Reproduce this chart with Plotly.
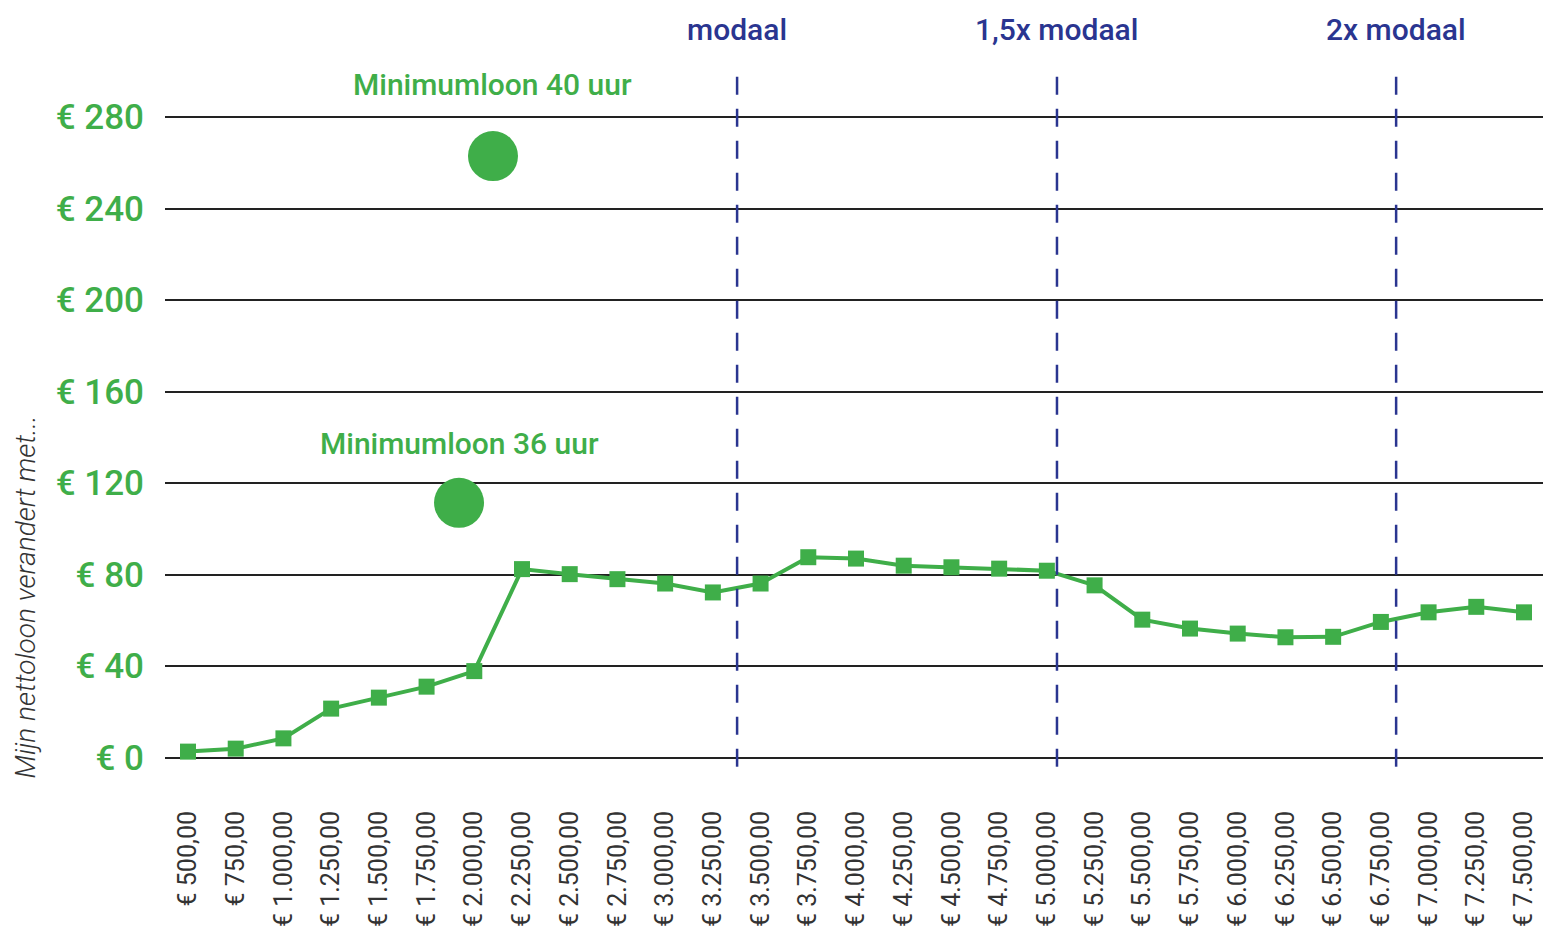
import plotly.graph_objects as go

income = [500, 750, 1000, 1250, 1500, 1750, 2000, 2250, 2500, 2750, 3000, 3250, 3500,
          3750, 4000, 4250, 4500, 4750, 5000, 5250, 5500, 5750, 6000, 6250, 6500, 6750,
          7000, 7250, 7500]
tick_labels = ["€ 500,00", "€ 750,00", "€ 1.000,00", "€ 1.250,00", "€ 1.500,00", "€ 1.750,00",
               "€ 2.000,00", "€ 2.250,00", "€ 2.500,00", "€ 2.750,00", "€ 3.000,00", "€ 3.250,00",
               "€ 3.500,00", "€ 3.750,00", "€ 4.000,00", "€ 4.250,00", "€ 4.500,00", "€ 4.750,00",
               "€ 5.000,00", "€ 5.250,00", "€ 5.500,00", "€ 5.750,00", "€ 6.000,00", "€ 6.250,00",
               "€ 6.500,00", "€ 6.750,00", "€ 7.000,00", "€ 7.250,00", "€ 7.500,00"]
change = [2.6, 3.9, 8.4, 21.4, 26.2, 31.0, 37.8, 82.4, 80.2, 78.0, 76.1, 72.2, 76.1,
          87.6, 87.0, 83.9, 83.2, 82.6, 81.7, 75.3, 60.3, 56.4, 54.2, 52.6, 52.8, 59.3,
          63.5, 65.9, 63.5]

min_wage_labels = ["Minimumloon 36 uur", "Minimumloon 40 uur"]
min_wage_income = [1920, 2098]
min_wage_change = [111.4, 263.0]
min_wage_label_shift = [59, 72]

ref_labels = ["modaal", "1,5x modaal", "2x modaal"]
ref_income = [3377, 5053, 6830]

y_ticks = [0, 40, 80, 120, 160, 200, 240, 280]
y_tick_text = ["€ %d" % v for v in y_ticks]

GREEN = "#3fae49"
NAVY = "#2a3590"
FONT = "Roboto"

fig = go.Figure()
fig.add_trace(go.Scatter(
    x=income, y=change, mode="lines+markers",
    line=dict(color=GREEN, width=4),
    marker=dict(symbol="square", size=16, color=GREEN),
    showlegend=False, cliponaxis=False,
))
fig.add_trace(go.Scatter(
    x=min_wage_income, y=min_wage_change, mode="markers",
    marker=dict(symbol="circle", size=50, color=GREEN),
    showlegend=False, cliponaxis=False,
))

for lbl, xv, yv, ys in zip(min_wage_labels, min_wage_income, min_wage_change, min_wage_label_shift):
    fig.add_annotation(x=xv, y=yv, xref="x", yref="y", text=lbl, showarrow=False,
                       yshift=ys, font=dict(family=FONT, size=30, color=GREEN, weight=500),
                       xanchor="center", yanchor="middle")

for lbl, xv in zip(ref_labels, ref_income):
    fig.add_shape(type="line", x0=xv, x1=xv, y0=-4, y1=302, xref="x", yref="y",
                  line=dict(color=NAVY, width=2.5, dash="18px,14px"))
    fig.add_annotation(x=xv, y=1, xref="x", yref="paper", text=lbl, showarrow=False,
                       yshift=31, font=dict(family=FONT, size=30, color=NAVY, weight=500),
                       xanchor="center", yanchor="middle")

fig.add_annotation(x=0, y=70, xref="paper", yref="y", xshift=-140,
                   text="Mijn nettoloon verandert met...", showarrow=False, textangle=-90,
                   font=dict(family=FONT, size=28, color="#333333", style="italic", weight=300),
                   xanchor="center", yanchor="middle")

fig.update_xaxes(
    range=[379.5, 7625.7], tickmode="array", tickvals=income, ticktext=tick_labels,
    tickangle=-90, showgrid=False, zeroline=False, showline=False, ticks="",
    tickfont=dict(family=FONT, size=25, color="#333333"), ticklabelstandoff=36,
)
fig.update_yaxes(
    range=[-5, 305], tickmode="array", tickvals=y_ticks, ticktext=y_tick_text,
    showgrid=True, gridcolor="#222222", gridwidth=2, zeroline=False, showline=False,
    ticks="", tickfont=dict(family=FONT, size=35, color=GREEN, weight=500),
    ticklabelstandoff=20,
)
fig.update_layout(
    width=1543, height=922,
    margin=dict(l=157, r=3, t=52, b=161),
    plot_bgcolor="white", paper_bgcolor="white",
    showlegend=False,
)
fig.write_html("out.html")
